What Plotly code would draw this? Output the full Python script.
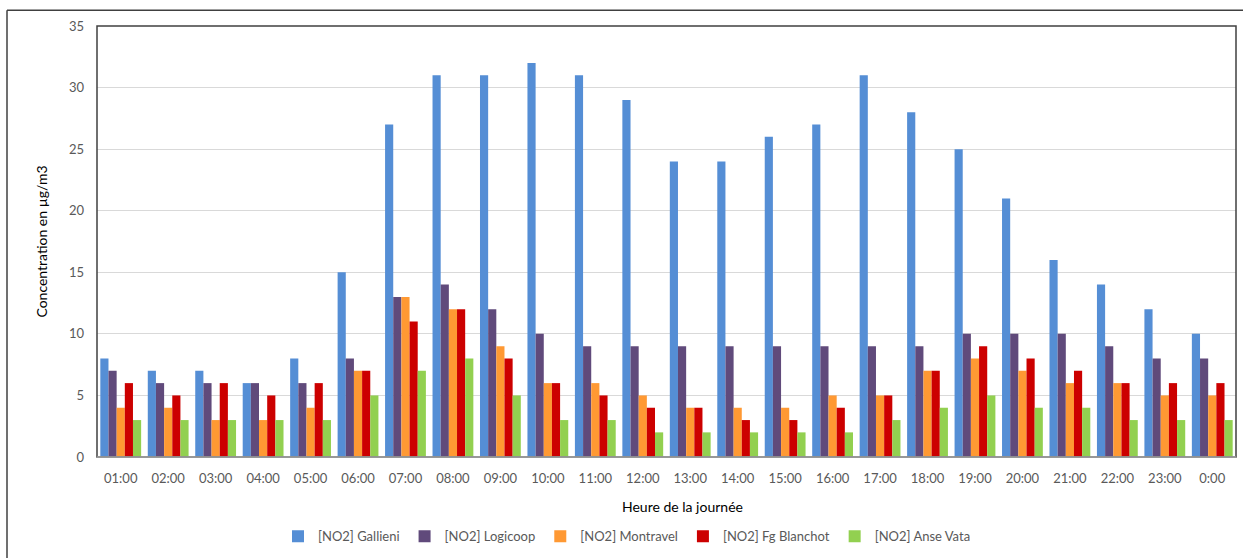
import plotly.graph_objects as go

hours = ["01:00", "02:00", "03:00", "04:00", "05:00", "06:00", "07:00", "08:00",
         "09:00", "10:00", "11:00", "12:00", "13:00", "14:00", "15:00", "16:00",
         "17:00", "18:00", "19:00", "20:00", "21:00", "22:00", "23:00", "0:00"]

gallieni = [8, 7, 7, 6, 8, 15, 27, 31, 31, 32, 31, 29, 24, 24, 26, 27, 31, 28, 25, 21, 16, 14, 12, 10]
logicoop = [7, 6, 6, 6, 6, 8, 13, 14, 12, 10, 9, 9, 9, 9, 9, 9, 9, 9, 10, 10, 10, 9, 8, 8]
montravel = [4, 4, 3, 3, 4, 7, 13, 12, 9, 6, 6, 5, 4, 4, 4, 5, 5, 7, 8, 7, 6, 6, 5, 5]
fg_blanchot = [6, 5, 6, 5, 6, 7, 11, 12, 8, 6, 5, 4, 4, 3, 3, 4, 5, 7, 9, 8, 7, 6, 6, 6]
anse_vata = [3, 3, 3, 3, 3, 5, 7, 8, 5, 3, 3, 2, 2, 2, 2, 2, 3, 4, 5, 4, 4, 3, 3, 3]

series = [
    ("[NO2] Gallieni", gallieni, "#558ED5"),
    ("[NO2] Logicoop", logicoop, "#604A7B"),
    ("[NO2] Montravel", montravel, "#FF9933"),
    ("[NO2] Fg Blanchot", fg_blanchot, "#CC0000"),
    ("[NO2] Anse Vata", anse_vata, "#92D050"),
]

FONT = "Lato"

fig = go.Figure()
for name, values, color in series:
    fig.add_trace(go.Bar(
        x=hours, y=values, name=name,
        marker=dict(color=color, line=dict(width=0)),
    ))

W, H = 1243, 558
L, R, T, B = 97, 7, 26, 97
pw, ph = W - L - R, H - T - B


def px_x(x):
    return (x - L) / pw


def px_y(y):
    return (H - B - y) / ph


fig.update_layout(
    width=W, height=H,
    margin=dict(l=L, r=R, t=T, b=B),
    paper_bgcolor="white", plot_bgcolor="white",
    barmode="group", bargap=0.14, bargroupgap=0,
    font=dict(family=FONT, size=13, color="#595959"),
    showlegend=True,
    legend=dict(
        orientation="h", x=px_x(627), xanchor="center",
        y=px_y(541), yanchor="middle",
        font=dict(family=FONT, size=13, color="#595959"),
        itemwidth=30, tracegroupgap=0,
    ),
    xaxis=dict(
        type="category", showgrid=False, zeroline=False,
        showline=False, ticks="", tickfont=dict(size=13, color="#595959"),
        ticklabelstandoff=12,
    ),
    yaxis=dict(
        range=[0, 35], dtick=5, showgrid=True, gridcolor="#D9D9D9", gridwidth=1,
        zeroline=False, showline=False, ticks="",
        tickfont=dict(size=13, color="#595959"), ticklabelstandoff=12,
        title=dict(text="Concentration en µg/m3",
                   font=dict(family=FONT, size=14, color="#000000"), standoff=18),
    ),
    annotations=[dict(
        text="Heure de la journée", xref="paper", yref="paper",
        x=px_x(682), y=px_y(511), xanchor="center", yanchor="middle",
        showarrow=False, font=dict(family=FONT, size=14, color="#000000"),
    )],
    shapes=[
        # plot area frame
        dict(type="rect", xref="paper", yref="paper", x0=0, y0=0, x1=1, y1=1,
             line=dict(color="#404040", width=1.5), layer="above"),
        # bottom axis line
        dict(type="line", xref="paper", yref="paper", x0=0, y0=0, x1=1, y1=0,
             line=dict(color="#A6A6A6", width=1.5), layer="above"),
        # chart area frame (top and left edges)
        dict(type="line", xref="paper", yref="paper",
             x0=px_x(7), y0=px_y(10), x1=px_x(W + 5), y1=px_y(10),
             line=dict(color="#404040", width=1.5)),
        dict(type="line", xref="paper", yref="paper",
             x0=px_x(7), y0=px_y(10), x1=px_x(7), y1=px_y(H + 5),
             line=dict(color="#404040", width=1.5)),
    ],
)

fig.write_html("out.html")
